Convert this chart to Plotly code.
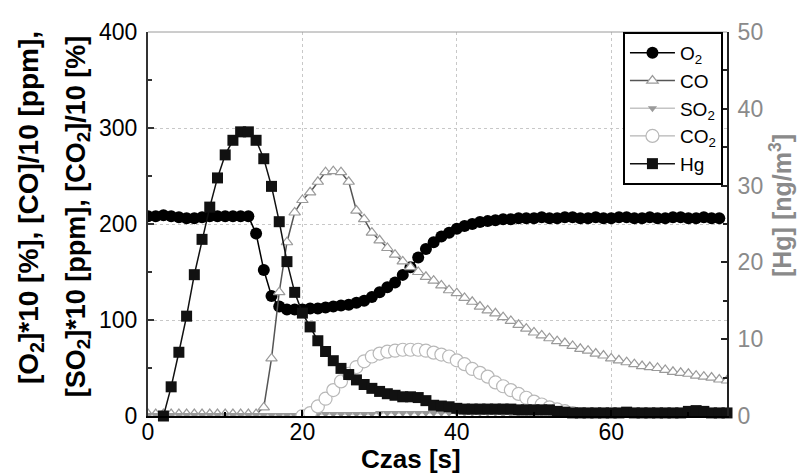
import plotly.graph_objects as go

# Time axis [s], one sample per second
time_s = list(range(0, 76))

# O2 *10 [%]
o2 = [208, 208, 209, 208, 207, 206, 206, 207, 208, 208, 208, 208, 208, 208,
      190, 152, 125, 114, 111, 111, 111, 112, 112, 113, 114, 115, 116, 118,
      120, 124, 129, 134, 139, 147, 155, 165, 174, 181, 187, 191, 195, 198,
      200, 202, 203, 204, 205, 205, 206,
      206, 206, 207, 206, 206, 207, 207, 206, 206, 207, 206, 206, 207, 207,
      206, 206, 207, 206, 206, 207, 207, 206, 206, 207, 206, 206]

# CO /10 [ppm]
co = [2, 2, 2, 2, 2, 2, 2, 2, 2, 2, 2, 2, 2, 2, 2,
      9, 60, 129, 181, 212, 225, 233, 244, 254, 255, 254, 244, 214, 205,
      191, 183, 175, 168, 161, 155, 150, 145, 141, 136, 131, 128, 123, 119,
      114, 110, 107, 103, 99, 95, 91, 87, 84, 81, 78, 76, 73, 70, 68, 65,
      63, 60, 58, 56, 54, 52, 51, 50, 48, 46, 45, 44, 42, 41, 40, 38, 37]

# SO2 *10 [ppm]
so2 = [1] * 21 + [2] * 9 + [3] * 16 + [2] * 10 + [1] * 20

# CO2 /10 [%]
co2_time = list(range(20, 61))
co2 = [0, 3, 10, 18, 27, 36, 44, 51, 57, 62, 65, 67, 68, 69, 69, 69, 68,
       66, 64, 62, 58, 54, 49, 45, 41, 35, 31, 27, 23, 19, 15, 12, 9, 7,
       5, 3, 2, 1, 0, 0, 0]

# Hg [ng/m3]
hg_time = list(range(2, 76))
hg = [0, 3.8, 8.3, 13.0, 18.4, 23.0, 27.2, 31.0, 34.0, 35.9, 37.0, 37.0,
      35.9, 33.5, 29.9, 25.3, 20.1, 16.1, 13.4, 11.6, 9.8, 8.4, 7.2, 6.2,
      5.4, 4.7, 4.1, 3.6, 3.2, 2.9, 2.7, 2.5, 2.5, 2.4, 2.0, 1.4, 1.3, 1.2,
      1.0, 0.9, 0.9, 0.9, 0.9, 0.9, 0.9, 0.9, 0.8, 0.8, 0.8, 0.8, 0.8, 0.6,
      0.5, 0.4, 0.4, 0.4, 0.4, 0.4, 0.4, 0.4, 0.5, 0.4, 0.4, 0.4, 0.4, 0.4,
      0.4, 0.4, 0.6, 0.7, 0.6, 0.4, 0.4, 0.4]

x_ticks = [0, 20, 40, 60]
y_ticks = [0, 100, 200, 300, 400]
y2_ticks = [0, 10, 20, 30, 40, 50]

FONT = "Liberation Sans, Arial, sans-serif"

fig = go.Figure()

fig.add_trace(go.Scatter(
    x=time_s, y=o2, name="O<sub>2</sub>", mode="lines+markers",
    line=dict(color="#000000", width=1.5),
    marker=dict(symbol="circle", size=12, color="#000000"),
    legendgroup="a"))

fig.add_trace(go.Scatter(
    x=time_s, y=co, name="CO", mode="lines+markers",
    line=dict(color="#555555", width=1.5),
    marker=dict(symbol="triangle-up", size=10, color="#ffffff",
                line=dict(color="#9a9a9a", width=1.2)),
    legendgroup="b"))

fig.add_trace(go.Scatter(
    x=time_s, y=so2, name="SO<sub>2</sub>", mode="lines+markers",
    line=dict(color="#c4c4c4", width=1.5),
    marker=dict(symbol="triangle-down", size=8, color="#9a9a9a"),
    legendgroup="c"))

fig.add_trace(go.Scatter(
    x=co2_time, y=co2, name="CO<sub>2</sub>", mode="lines+markers",
    line=dict(color="#b5b5b5", width=1.2),
    marker=dict(symbol="circle", size=13, color="#ffffff",
                line=dict(color="#b8b8b8", width=1.2)),
    legendgroup="d"))

fig.add_trace(go.Scatter(
    x=hg_time, y=hg, name="Hg", mode="lines+markers", yaxis="y2",
    line=dict(color="#111111", width=1.5),
    marker=dict(symbol="square", size=11, color="#111111"),
    cliponaxis=False, legendgroup="e"))

fig.update_layout(
    width=800, height=476,
    margin=dict(l=148, r=73, t=32, b=60),
    paper_bgcolor="white", plot_bgcolor="white",
    font=dict(family=FONT, color="#000000"),
    showlegend=True,
    legend=dict(x=0.993, xanchor="right", y=1.0, yanchor="top",
                bordercolor="#000000", borderwidth=2, bgcolor="white",
                font=dict(family=FONT, size=19, color="#000000"),
                tracegroupgap=2, traceorder="normal", itemwidth=45),
    xaxis=dict(range=[0, 75], tickvals=x_ticks, ticktext=[str(v) for v in x_ticks],
               ticks="inside", ticklen=6, tickwidth=2, tickcolor="#000000",
               minor=dict(dtick=10, ticks="inside", ticklen=4, tickcolor="#000000"),
               showline=True, linecolor="#000000", linewidth=2,
               showgrid=True, gridcolor="#c8c8c8", gridwidth=1, griddash="dot",
               zeroline=False, ticklabelstandoff=-6,
               tickfont=dict(family=FONT, size=23, color="#000000")),
    yaxis=dict(range=[0, 400], tickvals=y_ticks, ticktext=[str(v) for v in y_ticks],
               ticks="inside", ticklen=6, tickwidth=2, tickcolor="#333333",
               minor=dict(dtick=50, ticks="inside", ticklen=4, tickcolor="#333333"),
               showline=True, linecolor="#333333", linewidth=2,
               showgrid=True, gridcolor="#c8c8c8", gridwidth=1, griddash="dot",
               zeroline=False, ticklabelstandoff=4,
               tickfont=dict(family=FONT, size=23, color="#000000")),
    yaxis2=dict(range=[0, 50], overlaying="y", side="right",
                tickvals=y2_ticks, ticktext=[str(v) for v in y2_ticks],
                ticks="inside", ticklen=6, tickwidth=2, tickcolor="#222222",
                minor=dict(dtick=5, ticks="inside", ticklen=4, tickcolor="#222222"),
                showline=True, linecolor="#222222", linewidth=2,
                showgrid=False, zeroline=False, ticklabelstandoff=4,
                tickfont=dict(family=FONT, size=23, color="#8a8a8a")),
)

# thin frame line along the top of the plot area
fig.add_shape(type="line", xref="paper", yref="paper", x0=0, x1=1, y0=1, y1=1,
              line=dict(color="#9a9a9a", width=1))

# axis titles
fig.add_annotation(text="<b>[O<sub>2</sub>]*10 [%], [CO]/10 [ppm],</b>",
                   xref="paper", yref="paper", x=-0.2038, y=0.544,
                   textangle=-90, showarrow=False, xanchor="center", yanchor="middle",
                   font=dict(family=FONT, size=28, color="#000000"))
fig.add_annotation(text="<b>[SO<sub>2</sub>]*10 [ppm], [CO<sub>2</sub>]/10 [%]</b>",
                   xref="paper", yref="paper", x=-0.1209, y=0.52,
                   textangle=-90, showarrow=False, xanchor="center", yanchor="middle",
                   font=dict(family=FONT, size=27, color="#000000"))
fig.add_annotation(text="<b>[Hg] [ng/m<sup>3</sup>]</b>",
                   xref="paper", yref="paper", x=1.093, y=0.549,
                   textangle=-90, showarrow=False, xanchor="center", yanchor="middle",
                   font=dict(family=FONT, size=25, color="#8a8a8a"))
fig.add_annotation(text="<b>Czas [s]</b>",
                   xref="paper", yref="paper", x=0.454, y=-0.111,
                   showarrow=False, xanchor="center", yanchor="middle",
                   font=dict(family=FONT, size=26, color="#000000"))

fig.write_html("out.html")
